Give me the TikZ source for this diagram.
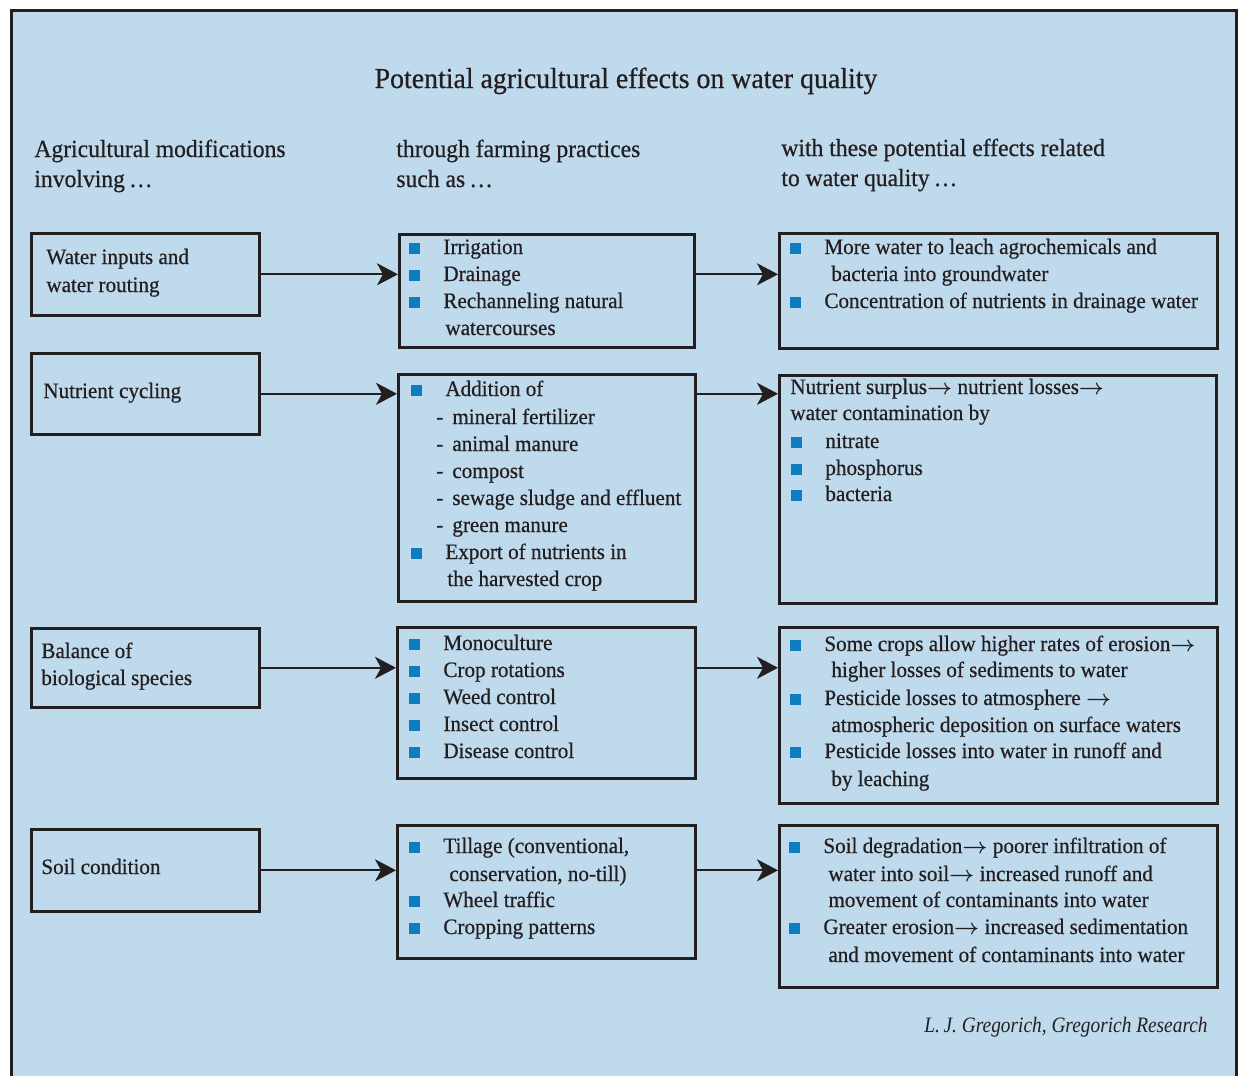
\documentclass[tikz,border=0pt]{standalone}
\usepackage{amsmath}
\usepackage{fontspec}
\setmainfont{Liberation Serif}[FakeStretch=0.96,FakeBold=0.6]
\newfontfamily\credfont{Liberation Serif}[FakeStretch=0.88]
\usetikzlibrary{arrows.meta}
\definecolor{panelblue}{RGB}{192,218,237}
\definecolor{inkgray}{RGB}{35,31,32}
\definecolor{bulletblue}{RGB}{14,125,192}
\newcommand{\bul}{\makebox[17pt][l]{\textcolor{bulletblue}{\rule{5.5pt}{5.5pt}}}}
\newcommand{\arr}{$\boldsymbol{\rightarrow}$}
\newcommand{\bodysize}{\fontsize{11}{13.5}\selectfont}
\tikzset{
  box/.style={draw=inkgray, line width=1.3pt, anchor=north west, inner sep=0pt},
  txt/.style={anchor=base west, inner sep=0pt, text=inkgray, font=\bodysize},
  hdr/.style={txt, font=\fontsize{12.3}{15}\selectfont},
  link/.style={draw=inkgray, line width=1pt, -{Stealth[length=10.5pt,width=11pt,inset=3pt]}},
}
\begin{document}
\begin{tikzpicture}[x=0.5pt,y=-0.5pt]
\useasboundingbox (0,0) rectangle (1238,1076);
% panel
\fill[panelblue] (11.5,10.5) rectangle (1236.5,1080);
\draw[inkgray, line width=1.5pt] (11.5,1080) -- (11.5,10.5) -- (1236.5,10.5) -- (1236.5,1080);

% title and column heads
\node[txt, anchor=base, font=\fontsize{14.5}{17}\selectfont] (title) at (626,88) {Potential agricultural effects on water quality};
\node[hdr] (h1a) at (34,157) {Agricultural modifications};
\node[hdr] (h1b) at (34,187) {involving\,\dots};
\node[hdr] (h2a) at (396,157) {through farming practices};
\node[hdr] (h2b) at (396,187) {such as\,\dots};
\node[hdr] (h3a) at (781,156) {with these potential effects related};
\node[hdr] (h3b) at (781,186) {to water quality\,\dots};

% boxes
\node[box, minimum width=114pt, minimum height=41pt] (l1) at (30,232) {};
\node[box, minimum width=114pt, minimum height=40.5pt] (l2) at (30,352) {};
\node[box, minimum width=114pt, minimum height=39.5pt] (l3) at (30,627) {};
\node[box, minimum width=114pt, minimum height=41pt] (l4) at (30,828) {};
\node[box, minimum width=147.5pt, minimum height=56.5pt] (m1) at (398,233) {};
\node[box, minimum width=148.5pt, minimum height=113.5pt] (m2) at (397,373) {};
\node[box, minimum width=149pt, minimum height=75.5pt] (m3) at (396,626) {};
\node[box, minimum width=149pt, minimum height=66.5pt] (m4) at (396,824) {};
\node[box, minimum width=219pt, minimum height=57.5pt] (r1) at (778,232) {};
\node[box, minimum width=218.5pt, minimum height=114pt] (r2) at (778,374) {};
\node[box, minimum width=219pt, minimum height=88pt] (r3) at (778,626) {};
\node[box, minimum width=219pt, minimum height=81pt] (r4) at (778,824) {};

% arrows
\draw[link] (l1.east) -- (l1.east -| m1.west);
\draw[link] (l2.east) -- (l2.east -| m2.west);
\draw[link] (l3.east) -- (l3.east -| m3.west);
\draw[link] (l4.east) -- (l4.east -| m4.west);
\draw[link] (l1.east -| m1.east) -- (l1.east -| r1.west);
\draw[link] (l2.east -| m2.east) -- (l2.east -| r2.west);
\draw[link] (l3.east -| m3.east) -- (l3.east -| r3.west);
\draw[link] (l4.east -| m4.east) -- (l4.east -| r4.west);

% left column
\node[txt] (l1a) at (46,264) {Water inputs and};
\node[txt] (l1b) at (46,292) {water routing};
\node[txt] (l2a) at (43,398) {Nutrient cycling};
\node[txt] (l3a) at (41,658) {Balance of};
\node[txt] (l3b) at (41,685) {biological species};
\node[txt] (l4a) at (41,874) {Soil condition};

% middle column
\node[txt] (m1a) at (409,254) {\bul Irrigation};
\node[txt] (m1b) at (409,281) {\bul Drainage};
\node[txt] (m1c) at (409,308) {\bul Rechanneling natural};
\node[txt] (m1d) at (445,335) {watercourses};
\node[txt] (m2a) at (411,396) {\bul Addition of};
\node[txt] (m2b) at (436,424) {- \,mineral fertilizer};
\node[txt] (m2c) at (436,451) {- \,animal manure};
\node[txt] (m2d) at (436,478) {- \,compost};
\node[txt] (m2e) at (436,505) {- \,sewage sludge and effluent};
\node[txt] (m2f) at (436,532) {- \,green manure};
\node[txt] (m2g) at (411,559) {\bul Export of nutrients in};
\node[txt] (m2h) at (447,586) {the harvested crop};
\node[txt] (m3a) at (409,650) {\bul Monoculture};
\node[txt] (m3b) at (409,677) {\bul Crop rotations};
\node[txt] (m3c) at (409,704) {\bul Weed control};
\node[txt] (m3d) at (409,731) {\bul Insect control};
\node[txt] (m3e) at (409,758) {\bul Disease control};
\node[txt] (m4a) at (409,853) {\bul Tillage (conventional,};
\node[txt] (m4b) at (449,881) {conservation, no-till)};
\node[txt] (m4c) at (409,907) {\bul Wheel traffic};
\node[txt] (m4d) at (409,934) {\bul Cropping patterns};

% right column
\node[txt] (r1a) at (790,254) {\bul More water to leach agrochemicals and};
\node[txt] (r1b) at (831,281) {bacteria into groundwater};
\node[txt] (r1c) at (790,308) {\bul Concentration of nutrients in drainage water};
\node[txt] (r2a) at (790,394) {Nutrient surplus\arr{} nutrient losses\arr};
\node[txt] (r2b) at (790,420) {water contamination by};
\node[txt] (r2c) at (791,448) {\bul nitrate};
\node[txt] (r2d) at (791,475) {\bul phosphorus};
\node[txt] (r2e) at (791,501) {\bul bacteria};
\node[txt] (r3a) at (790,651) {\bul Some crops allow higher rates of erosion\arr};
\node[txt] (r3b) at (831,677) {higher losses of sediments to water};
\node[txt] (r3c) at (790,705) {\bul Pesticide losses to atmosphere \arr};
\node[txt] (r3d) at (831,732) {atmospheric deposition on surface waters};
\node[txt] (r3e) at (790,758) {\bul Pesticide losses into water in runoff and};
\node[txt] (r3f) at (831,786) {by leaching};
\node[txt] (r4a) at (789,853) {\bul Soil degradation\arr{} poorer infiltration of};
\node[txt] (r4b) at (828,881) {water into soil\arr{} increased runoff and};
\node[txt] (r4c) at (828,907) {movement of contaminants into water};
\node[txt] (r4d) at (789,934) {\bul Greater erosion\arr{} increased sedimentation};
\node[txt] (r4e) at (828,962) {and movement of contaminants into water};

% credit
\node[txt, anchor=base east, font=\credfont\itshape\fontsize{11}{13}\selectfont] (credit) at (1208,1032) {L.\,J. Gregorich, Gregorich Research};
\end{tikzpicture}
\end{document}
